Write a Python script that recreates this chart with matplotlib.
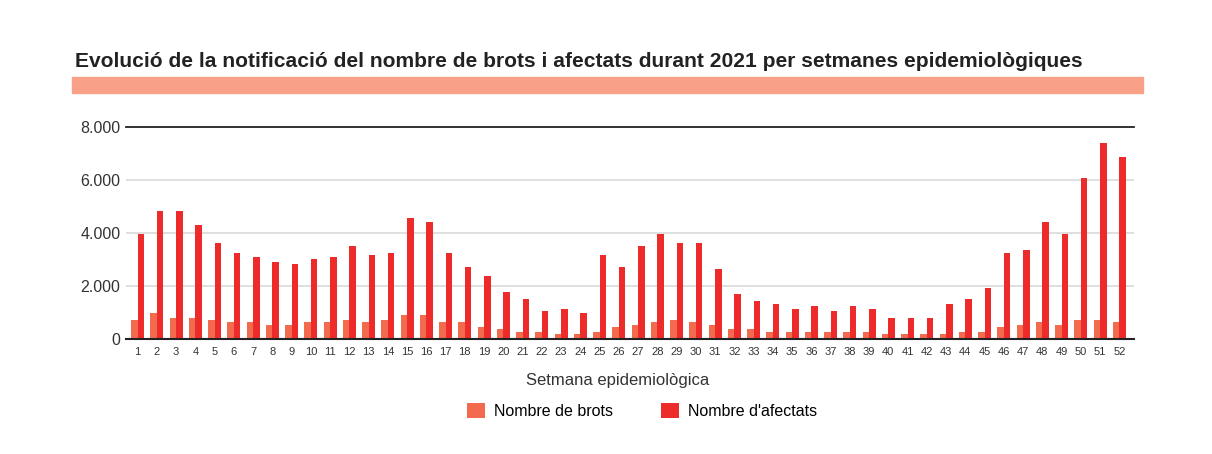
import matplotlib.pyplot as plt
from matplotlib.patches import Rectangle
import numpy as np

plt.rcParams['font.family'] = ['Liberation Sans', 'DejaVu Sans']

weeks = list(range(1, 53))
brots = [715, 980, 800, 800, 715, 630, 630, 540, 540, 630,
         630, 715, 630, 715, 890, 890, 630, 630, 450, 360,
         280, 280, 190, 190, 280, 450, 540, 630, 715, 630,
         540, 360, 360, 280, 280, 280, 280, 280, 280, 190,
         190, 190, 190, 280, 280, 450, 540, 630, 540, 715,
         715, 630]
afectats = [3960, 4840, 4840, 4310, 3610, 3260, 3080, 2910, 2820, 3000,
            3080, 3520, 3170, 3260, 4580, 4400, 3260, 2730, 2380, 1770,
            1500, 1070, 1150, 980, 3170, 2730, 3520, 3960, 3610, 3610,
            2650, 1680, 1420, 1330, 1150, 1240, 1070, 1240, 1150, 800,
            800, 800, 1330, 1500, 1940, 3260, 3350, 4400, 3960, 6070,
            7390, 6860]
yticks = [0, 2000, 4000, 6000, 8000]
ytick_labels = ['0', '2.000', '4.000', '6.000', '8.000']

c_brots = '#F26B4F'
c_afect = '#EE2B2B'
txt = '#333333'

fig = plt.figure(figsize=(12.12, 4.54), dpi=100)
ax = fig.add_axes([0.104, 0.2533, 0.8316, 0.467])

x = np.array(weeks)
w = 0.335
ax.bar(x - w / 2, brots, width=w, color=c_brots, label='Nombre de brots', zorder=3)
ax.bar(x + w / 2, afectats, width=w, color=c_afect, label="Nombre d'afectats", zorder=3)

ax.set_xlim(0.4, 52.76)
ax.set_ylim(0, 8000)
ax.set_yticks(yticks)
ax.set_yticklabels(ytick_labels, fontsize=11.5, color=txt)
ax.set_xticks(weeks)
ax.set_xticklabels([str(wk) for wk in weeks], fontsize=8, color=txt)
ax.tick_params(axis='both', length=0)
ax.tick_params(axis='y', pad=4)
ax.tick_params(axis='x', pad=6)

for s in ax.spines.values():
    s.set_visible(False)
for yv in [2000, 4000, 6000]:
    ax.axhline(yv, color='#d9d9d9', lw=1.2, zorder=1)
ax.axhline(8000, color='#222222', lw=1.3, zorder=1, clip_on=False)
ax.axhline(0, color='#222222', lw=1.5, zorder=4, clip_on=False)

ax.set_xlabel('Setmana epidemiològica', fontsize=12, color=txt, va='center')
ax.xaxis.set_label_coords(0.4876, -0.198)

fig.legend(*ax.get_legend_handles_labels(), loc='center', bbox_to_anchor=(0.53, 0.095),
           ncol=2, frameon=False, fontsize=11.5, handlelength=1.1, handleheight=1.1,
           columnspacing=3, handletextpad=0.6)

fig.text(0.062, 0.865, 'Evolució de la notificació del nombre de brots i afectats durant 2021 per setmanes epidemiològiques',
         fontsize=15.1, fontweight='bold', color='#222222', va='center')
fig.patches.append(Rectangle((0.0594, 0.795), 0.8837, 0.0352, transform=fig.transFigure,
                             color='#F9A088', zorder=0))

fig.savefig('out.png', dpi=100)
